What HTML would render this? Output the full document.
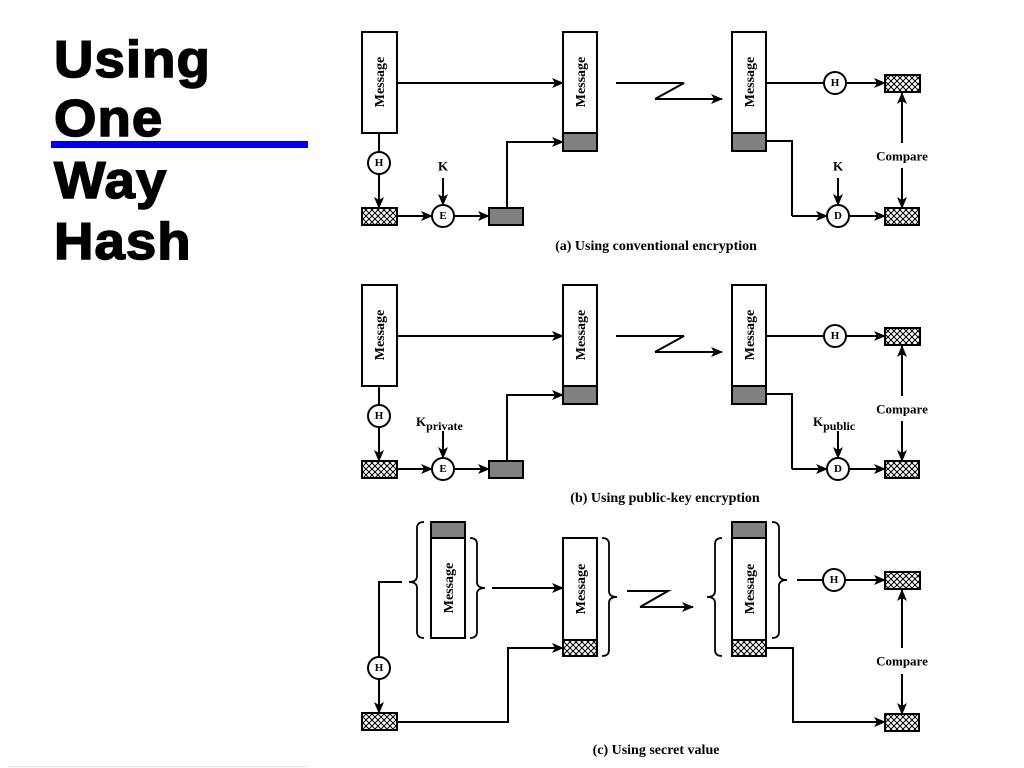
<!DOCTYPE html>
<html><head><meta charset="utf-8"><style>
html,body{margin:0;padding:0;background:#fff;width:1024px;height:768px;overflow:hidden}
.t{position:absolute;left:54px;font:bold 52px "Liberation Sans",sans-serif;color:#000;line-height:1;-webkit-text-stroke:1.5px #000;transform:scaleX(1.05);transform-origin:0 0;letter-spacing:1px}
</style></head><body>
<div class="t" style="top:34px">Using</div>
<div class="t" style="top:93px">One</div>
<div class="t" style="top:155px">Way</div>
<div class="t" style="top:216px">Hash</div>
<div style="position:absolute;left:51px;top:141px;width:257px;height:7px;background:#0000ee"></div>
<div style="position:absolute;left:8px;top:766px;width:300px;height:1px;background:#e4e4e4"></div>
<svg width="1024" height="768" style="position:absolute;left:0;top:0" xmlns="http://www.w3.org/2000/svg">
<defs>
<pattern id="hx" width="6" height="6" patternUnits="userSpaceOnUse">
<rect width="6" height="6" fill="#fff"/><path d="M0,0L6,6M6,0L0,6" stroke="#000" stroke-width="1"/></pattern>
<marker id="ar" markerWidth="12" markerHeight="10" refX="11" refY="5" orient="auto" markerUnits="userSpaceOnUse">
<path d="M0,0L12,5L0,10L3,5z" fill="#000"/></marker>
</defs>
<style>
.b{fill:#fff;stroke:#000;stroke-width:2}
.g{fill:#808080;stroke:#000;stroke-width:2}
.h{fill:url(#hx);stroke:#000;stroke-width:2}
.l{fill:none;stroke:#000;stroke-width:2}
.a{fill:none;stroke:#000;stroke-width:2;marker-end:url(#ar)}
.m{font:bold 14px "Liberation Serif",serif;text-anchor:middle}
.c{font:bold 11px "Liberation Serif",serif;text-anchor:middle;dominant-baseline:central}
.cap{font:bold 14px "Liberation Serif",serif;text-anchor:middle}
.br{fill:none;stroke:#000;stroke-width:1.8}
</style>

<g id="pa">
<rect class="b" x="362" y="32" width="35" height="101"/>
<text class="m" transform="translate(384,82) rotate(-90)">Message</text>
<line class="a" x1="397" y1="83" x2="563" y2="83"/>
<rect class="b" x="563" y="32" width="34" height="101"/>
<rect class="g" x="563" y="133" width="34" height="18"/>
<text class="m" transform="translate(585,82) rotate(-90)">Message</text>
<path class="l" d="M616,83H684L655,99"/><line class="a" x1="655" y1="99" x2="722" y2="99"/>
<rect class="b" x="732" y="32" width="34" height="101"/>
<rect class="g" x="732" y="133" width="34" height="18"/>
<text class="m" transform="translate(754,82) rotate(-90)">Message</text>
<line class="l" x1="766" y1="83" x2="824" y2="83"/>
<circle class="b" cx="835" cy="83" r="11"/><text class="c" x="835" y="83">H</text>
<line class="a" x1="846" y1="83" x2="885" y2="83"/>
<rect class="h" x="885" y="75" width="35" height="17"/>
<line class="a" x1="902" y1="143" x2="902" y2="93"/>
<line class="a" x1="902" y1="168" x2="902" y2="208"/>
<path class="l" d="M766,141H792V216"/><line class="a" x1="792" y1="216" x2="827" y2="216"/>
<line class="a" x1="838" y1="178" x2="838" y2="205"/>
<circle class="b" cx="838" cy="216" r="11"/><text class="c" x="838" y="216">D</text>
<line class="a" x1="849" y1="216" x2="885" y2="216"/>
<rect class="h" x="885" y="208" width="34" height="17"/>
<line class="l" x1="379" y1="133" x2="379" y2="152"/>
<circle class="b" cx="379" cy="163" r="11"/><text class="c" x="379" y="163">H</text>
<line class="a" x1="379" y1="174" x2="379" y2="208"/>
<rect class="h" x="362" y="208" width="35" height="17"/>
<line class="a" x1="397" y1="216" x2="432" y2="216"/>
<circle class="b" cx="443" cy="216" r="11"/><text class="c" x="443" y="216">E</text>
<line class="a" x1="443" y1="178" x2="443" y2="205"/>
<line class="a" x1="454" y1="216" x2="489" y2="216"/>
<rect class="g" x="489" y="208" width="34" height="17"/>
<path class="l" d="M507,208V142"/><line class="a" x1="506" y1="142" x2="563" y2="142"/>
</g>
<text class="c" x="443" y="166" style="font-size:13px">K</text>
<text class="c" x="838" y="166" style="font-size:13px">K</text>
<text class="c" x="902" y="156" style="font-size:13px">Compare</text>
<text class="cap" x="656" y="250">(a) Using conventional encryption</text>

<use href="#pa" transform="translate(0,253)"/>
<text x="416" y="426" style="font:bold 13px 'Liberation Serif',serif">K<tspan dy="4" font-size="12">private</tspan></text>
<text x="813" y="426" style="font:bold 13px 'Liberation Serif',serif">K<tspan dy="4" font-size="12">public</tspan></text>
<text class="c" x="902" y="409" style="font-size:13px">Compare</text>
<text class="cap" x="665" y="502">(b) Using public-key encryption</text>

<rect class="g" x="431" y="522" width="34" height="16"/>
<rect class="b" x="431" y="538" width="34" height="100"/>
<text class="m" transform="translate(453,588) rotate(-90)">Message</text>
<path class="br" d="M424,522Q417,522 417,528V576Q417,582 409,582Q417,582 417,588V632Q417,638 424,638"/>
<path class="br" d="M470,538Q477,538 477,544V582Q477,588 485,588Q477,588 477,594V632Q477,638 470,638"/>
<path class="l" d="M379,657V582H402"/>
<line class="a" x1="492" y1="588" x2="563" y2="588"/>
<circle class="b" cx="379" cy="668" r="11"/><text class="c" x="379" y="668">H</text>
<line class="a" x1="379" y1="679" x2="379" y2="713"/>
<rect class="h" x="362" y="713" width="35" height="17"/>
<path class="l" d="M397,722H508V648"/><line class="a" x1="507" y1="648" x2="563" y2="648"/>
<rect class="b" x="563" y="538" width="34" height="102"/>
<rect class="h" x="563" y="640" width="34" height="16"/>
<text class="m" transform="translate(585,589) rotate(-90)">Message</text>
<path class="br" d="M602,538Q609,538 609,544V591Q609,597 617,597Q609,597 609,603V650Q609,656 602,656"/>
<path class="l" d="M627,591H668L640,607"/><line class="a" x1="640" y1="607" x2="693" y2="607"/>
<path class="br" d="M722,538Q715,538 715,544V591Q715,597 707,597Q715,597 715,603V650Q715,656 722,656"/>
<rect class="g" x="732" y="522" width="34" height="16"/>
<rect class="b" x="732" y="538" width="34" height="102"/>
<rect class="h" x="732" y="640" width="34" height="16"/>
<text class="m" transform="translate(754,589) rotate(-90)">Message</text>
<path class="br" d="M772,522Q779,522 779,528V574Q779,580 787,580Q779,580 779,586V632Q779,638 772,638"/>
<line class="l" x1="797" y1="580" x2="823" y2="580"/>
<circle class="b" cx="834" cy="580" r="11"/><text class="c" x="834" y="580">H</text>
<line class="a" x1="845" y1="580" x2="885" y2="580"/>
<rect class="h" x="885" y="572" width="35" height="17"/>
<line class="a" x1="902" y1="648" x2="902" y2="590"/>
<line class="a" x1="902" y1="674" x2="902" y2="714"/>
<text class="c" x="902" y="661" style="font-size:13px">Compare</text>
<path class="l" d="M766,648H793V722"/><line class="a" x1="792" y1="722" x2="885" y2="722"/>
<rect class="h" x="885" y="714" width="34" height="17"/>
<text class="cap" x="656" y="754">(c) Using secret value</text>
</svg>
</body></html>
